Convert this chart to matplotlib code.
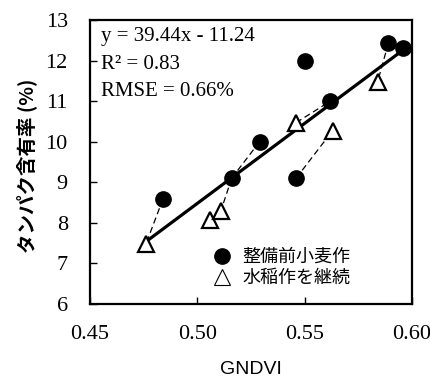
import matplotlib
matplotlib.use("Agg")
import matplotlib.pyplot as plt
from matplotlib.lines import Line2D
import numpy as np

# ---- data ----
wheat_x = [0.484, 0.516, 0.529, 0.546, 0.550, 0.562, 0.589, 0.596]
wheat_y = [8.59, 9.10, 10.00, 9.10, 12.00, 11.00, 12.43, 12.30]
rice_x = [0.476, 0.506, 0.511, 0.546, 0.563, 0.584]
rice_y = [7.47, 8.07, 8.30, 10.47, 10.27, 11.48]
# dashed links between related points: (series, index) -> (series, index)
links = [(("w", 0), ("r", 0)),
         (("w", 2), ("w", 1)),
         (("w", 1), ("r", 2)),
         (("w", 3), ("r", 4)),
         (("r", 3), ("w", 5)),
         (("w", 6), ("r", 5))]
slope, intercept = 39.44, -11.24
r2, rmse = 0.83, 0.66
label_wheat = "整備前小麦作"
label_rice = "水稲作を継続"
xticks = [0.45, 0.50, 0.55, 0.60]
yticks = [6, 7, 8, 9, 10, 11, 12, 13]

serif = ["Liberation Serif", "DejaVu Serif"]
cjk = ["Noto Sans CJK JP", "DejaVu Sans"]

fig = plt.figure(figsize=(4.31, 3.79), dpi=100)
ax = fig.add_axes([90/431, 1-304/379, 322/431, 284/379])

series = {"w": (wheat_x, wheat_y), "r": (rice_x, rice_y)}
for (s0, i0), (s1, i1) in links:
    ax.plot([series[s0][0][i0], series[s1][0][i1]],
            [series[s0][1][i0], series[s1][1][i1]],
            color="black", lw=0.9, ls=(0, (5, 3)), zorder=1)

xr = np.array([min(rice_x + wheat_x), max(rice_x + wheat_x)])
ax.plot(xr, slope * xr + intercept, color="black", lw=2.3, zorder=2)

ax.plot(wheat_x, wheat_y, "o", ms=11, color="black", mec="black", zorder=3)
ax.plot(rice_x, rice_y, "^", ms=11, mfc="white", mec="black", mew=1.6, zorder=3)

ax.set_xlim(0.45, 0.60)
ax.set_ylim(6, 13)
ax.set_xticks(xticks)
ax.set_xticklabels([f"{t:.2f}" for t in xticks], family=serif, fontsize=16)
ax.set_yticks(yticks)
ax.set_yticklabels([str(t) for t in yticks], family=serif, fontsize=16)
ax.tick_params(direction="in", length=5, width=1.0, color="black")
ax.tick_params(axis="y", pad=16)
ax.tick_params(axis="x", pad=15)
for sp in ax.spines.values():
    sp.set_linewidth(1.6)

ax.text(0.035, 0.943, f"y = {slope:.2f}x - {abs(intercept):.2f}", transform=ax.transAxes,
        family=serif, fontsize=15, va="center", ha="left")
ax.text(0.035, 0.845, f"R² = {r2:.2f}", transform=ax.transAxes,
        family=serif, fontsize=15, va="center", ha="left")
ax.text(0.035, 0.749, f"RMSE = {rmse:.2f}%", transform=ax.transAxes,
        family=serif, fontsize=15, va="center", ha="left")

handles = [Line2D([], [], ls="none", marker="o", ms=11, color="black"),
           Line2D([], [], ls="none", marker="^", ms=11, mfc="white", mec="black", mew=0.8)]
leg = ax.legend(handles, [label_wheat, label_rice], loc="lower left",
                bbox_to_anchor=(0.36, 0.035), frameon=False, handlelength=1.0,
                handletextpad=0.6, labelspacing=0.15, borderaxespad=0,
                prop={"family": cjk, "size": 13})

fig.text(251/431, 1-369/379, "GNDVI", ha="center", va="center",
         family=["Liberation Sans", "DejaVu Sans"], fontsize=14)
fig.text(27/431, 1-166/379, "タンパク含有率 (%)", ha="center", va="center",
         rotation=90, family=cjk, fontsize=14, fontweight="bold")

fig.savefig("out.png", dpi=100)
